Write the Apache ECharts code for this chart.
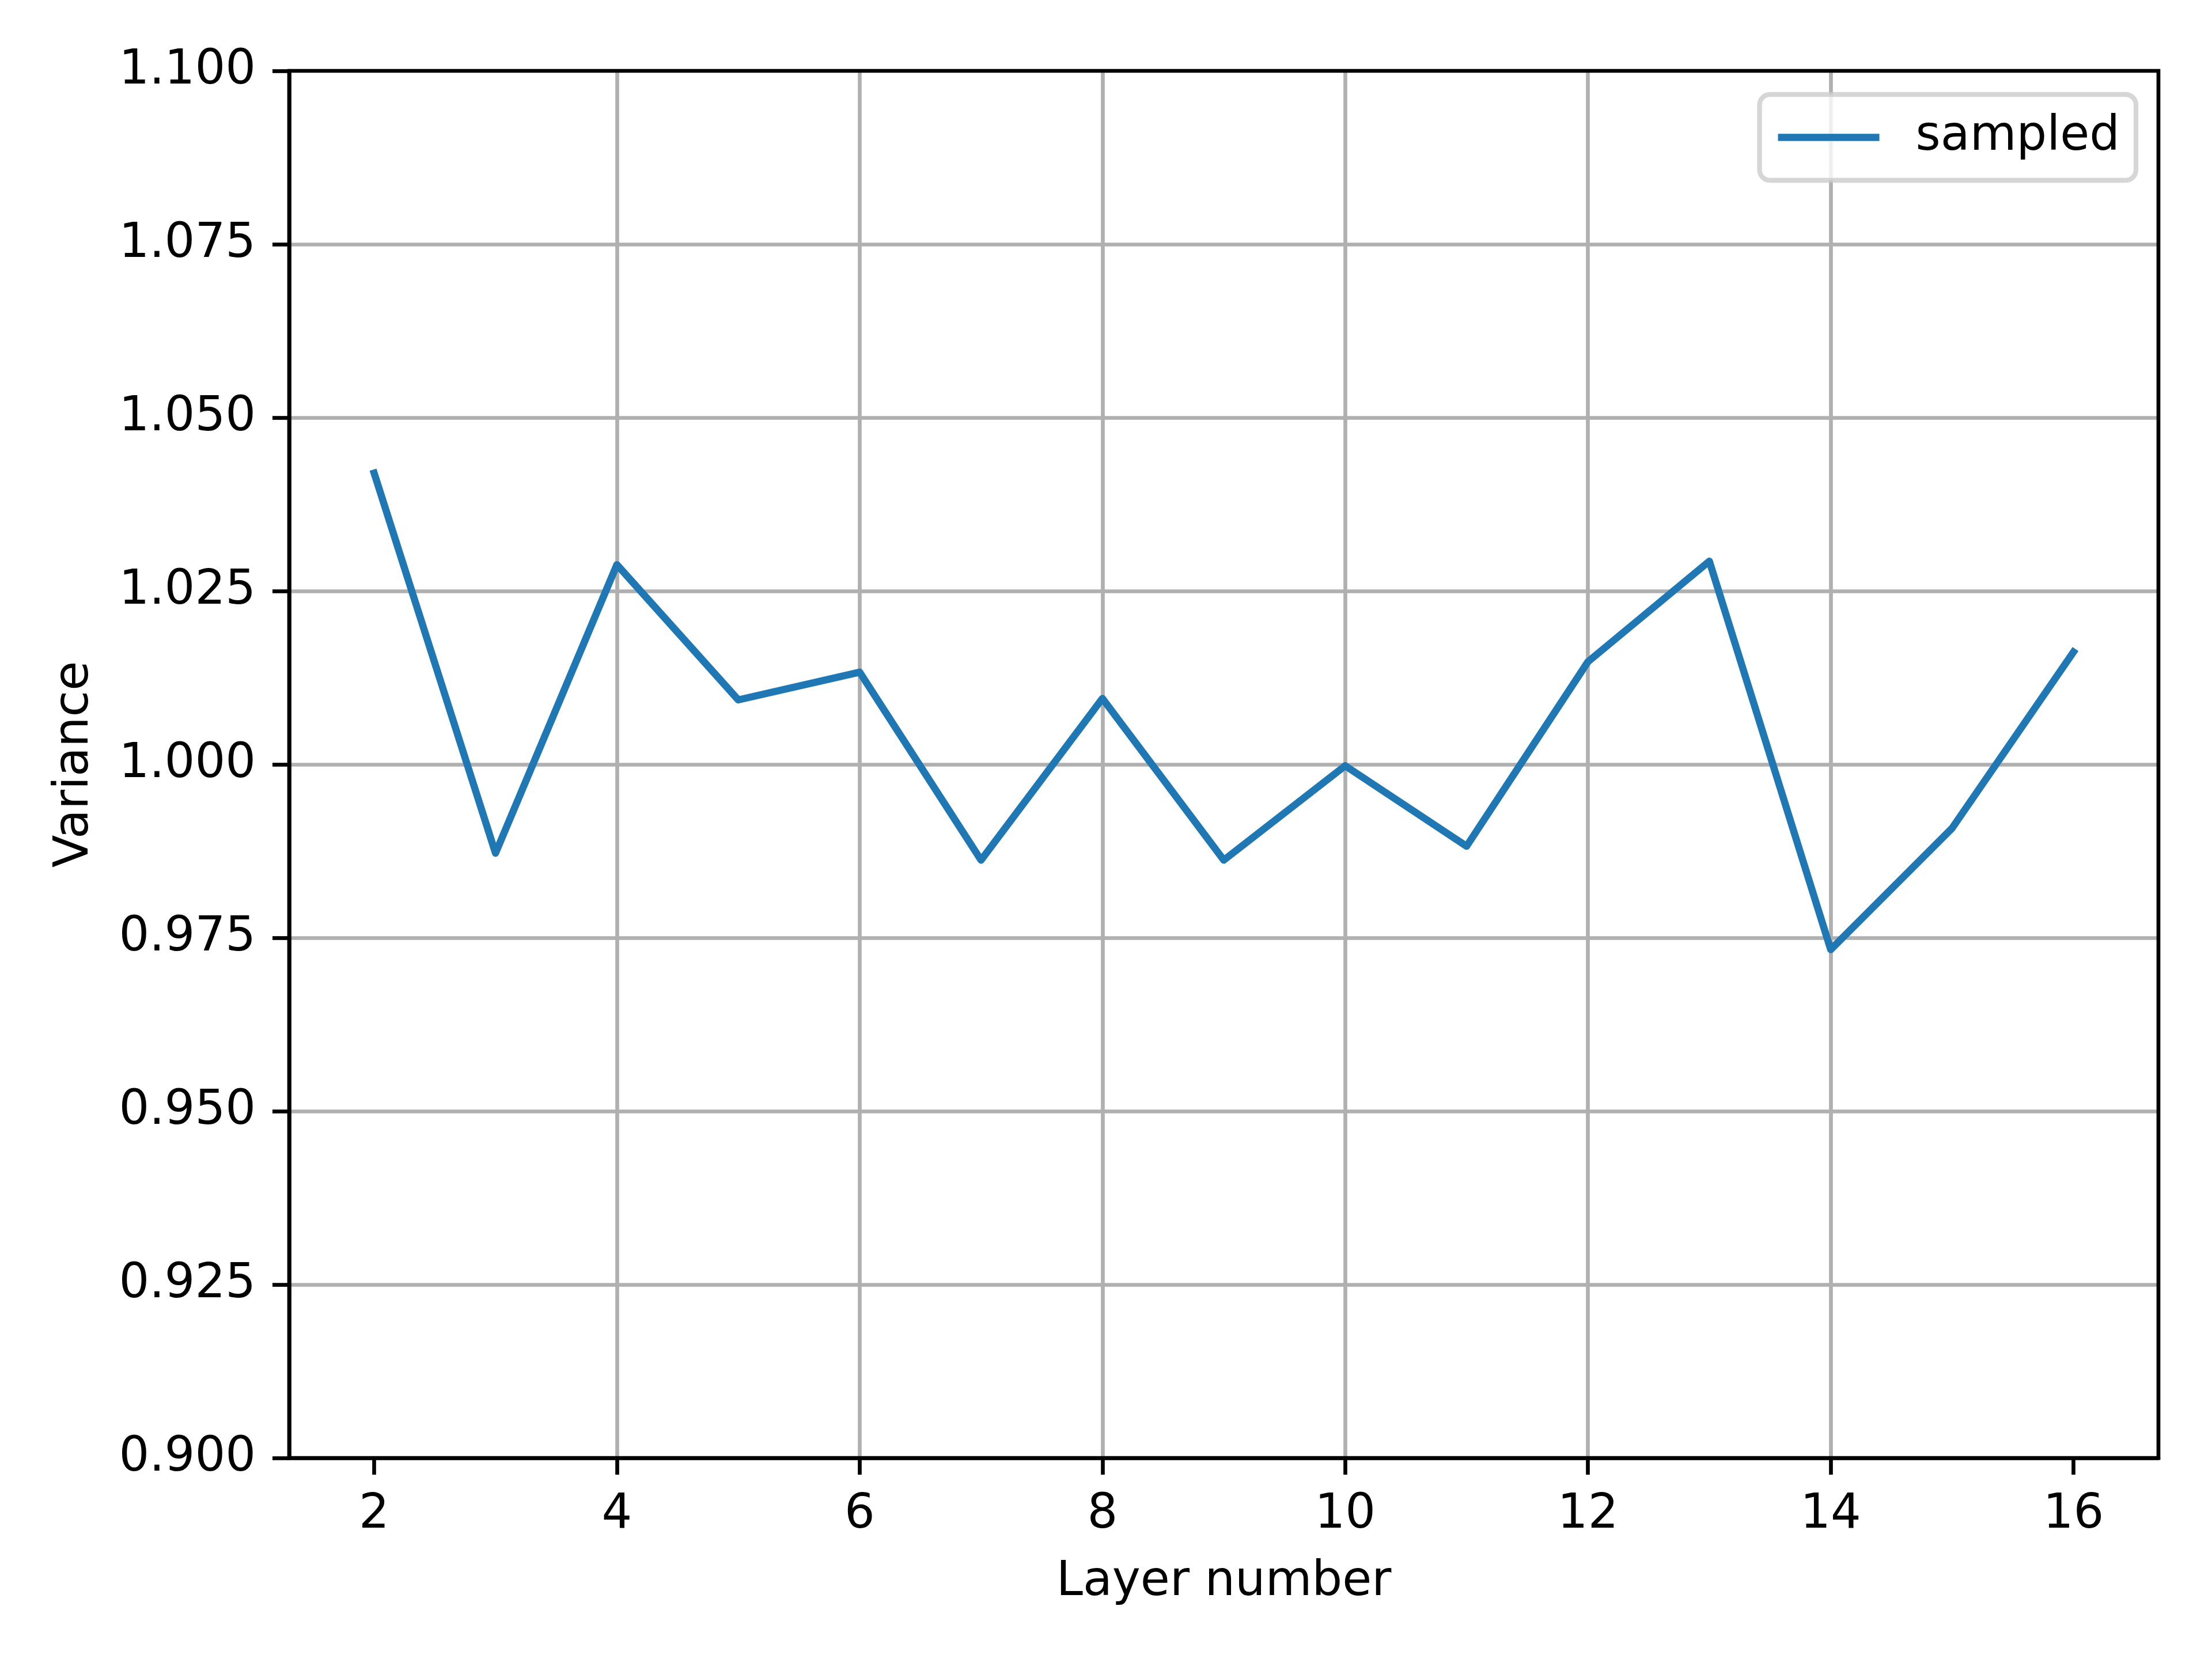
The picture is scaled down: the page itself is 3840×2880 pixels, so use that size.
<!DOCTYPE html>
<html>
<head>
<meta charset="utf-8">
<script src="https://cdn.jsdelivr.net/npm/echarts@6/dist/echarts.min.js"></script>
<style>
html,body{margin:0;padding:0;background:#fff;}
#chart{width:3840px;height:2880px;}
</style>
</head>
<body>
<div id="chart"></div>
<script>
const layers = [2, 3, 4, 5, 6, 7, 8, 9, 10, 11, 12, 13, 14, 15, 16];
const sampled = [1.0420, 0.9872, 1.0288, 1.0093, 1.0133, 0.9862, 1.0095, 0.9862, 0.9998, 0.9882, 1.0148, 1.0293, 0.9733, 0.9908, 1.0162];
const xTicks = [2, 4, 6, 8, 10, 12, 14, 16];
const seriesName = 'sampled';
const xTitle = 'Layer number';
const yTitle = 'Variance';

const FONT = 'DejaVu Sans';
const FS = 83;
const chart = echarts.init(document.getElementById('chart'), null, {renderer: 'canvas'});
const gridColor = '#b0b0b0';
const option = {
  backgroundColor: '#ffffff',
  animation: false,
  grid: {left: 502, right: 93, top: 123, bottom: 349, show: true, borderColor: '#000', borderWidth: 6.67, backgroundColor: 'transparent', z: 10},
  legend: {
    data: [seriesName],
    right: 132, top: 164,
    icon: 'rect', itemWidth: 176, itemHeight: 12.5,
    backgroundColor: 'rgba(255,255,255,0.8)',
    borderColor: 'rgba(204,204,204,0.8)', borderWidth: 8.3, borderRadius: 18,
    padding: [33, 28, 33, 32],
    textStyle: {fontFamily: FONT, fontSize: FS, color: '#000', padding: [0, 0, 0, 58]}
  },
  xAxis: {
    type: 'value', min: 1.3, max: 16.7,
    name: xTitle, nameLocation: 'middle', nameGap: 175,
    nameTextStyle: {fontFamily: FONT, fontSize: FS, color: '#000'},
    axisLine: {show: true, onZero: false, lineStyle: {color: '#000', width: 6.67}},
    axisTick: {show: true, length: 29, inside: false, customValues: xTicks, lineStyle: {color: '#000', width: 6.67}},
    axisLabel: {show: true, customValues: xTicks, margin: 58, fontFamily: FONT, fontSize: FS, color: '#000', formatter: v => String(v)},
    splitLine: {show: true, showMinLine: false, showMaxLine: false, lineStyle: {color: gridColor, width: 6.67}}
  },
  yAxis: {
    type: 'value', min: 0.9, max: 1.1, interval: 0.025,
    name: yTitle, nameLocation: 'middle', nameGap: 330, nameRotate: 90,
    nameTextStyle: {fontFamily: FONT, fontSize: FS, color: '#000'},
    axisLine: {show: true, onZero: false, lineStyle: {color: '#000', width: 6.67}},
    axisTick: {show: true, length: 29, inside: false, lineStyle: {color: '#000', width: 6.67}},
    axisLabel: {show: true, margin: 58, fontFamily: FONT, fontSize: FS, color: '#000', formatter: v => v.toFixed(3)},
    splitLine: {show: true, showMinLine: false, showMaxLine: false, lineStyle: {color: gridColor, width: 6.67}}
  },
  series: [{
    name: seriesName, type: 'line',
    data: layers.map((x, i) => [x, sampled[i]]),
    showSymbol: false, symbol: 'none',
    lineStyle: {color: '#1f77b4', width: 12.5, cap: 'square', join: 'round'},
    itemStyle: {color: '#1f77b4'},
    z: 5
  }]
};
chart.setOption(option);
</script>
</body>
</html>
